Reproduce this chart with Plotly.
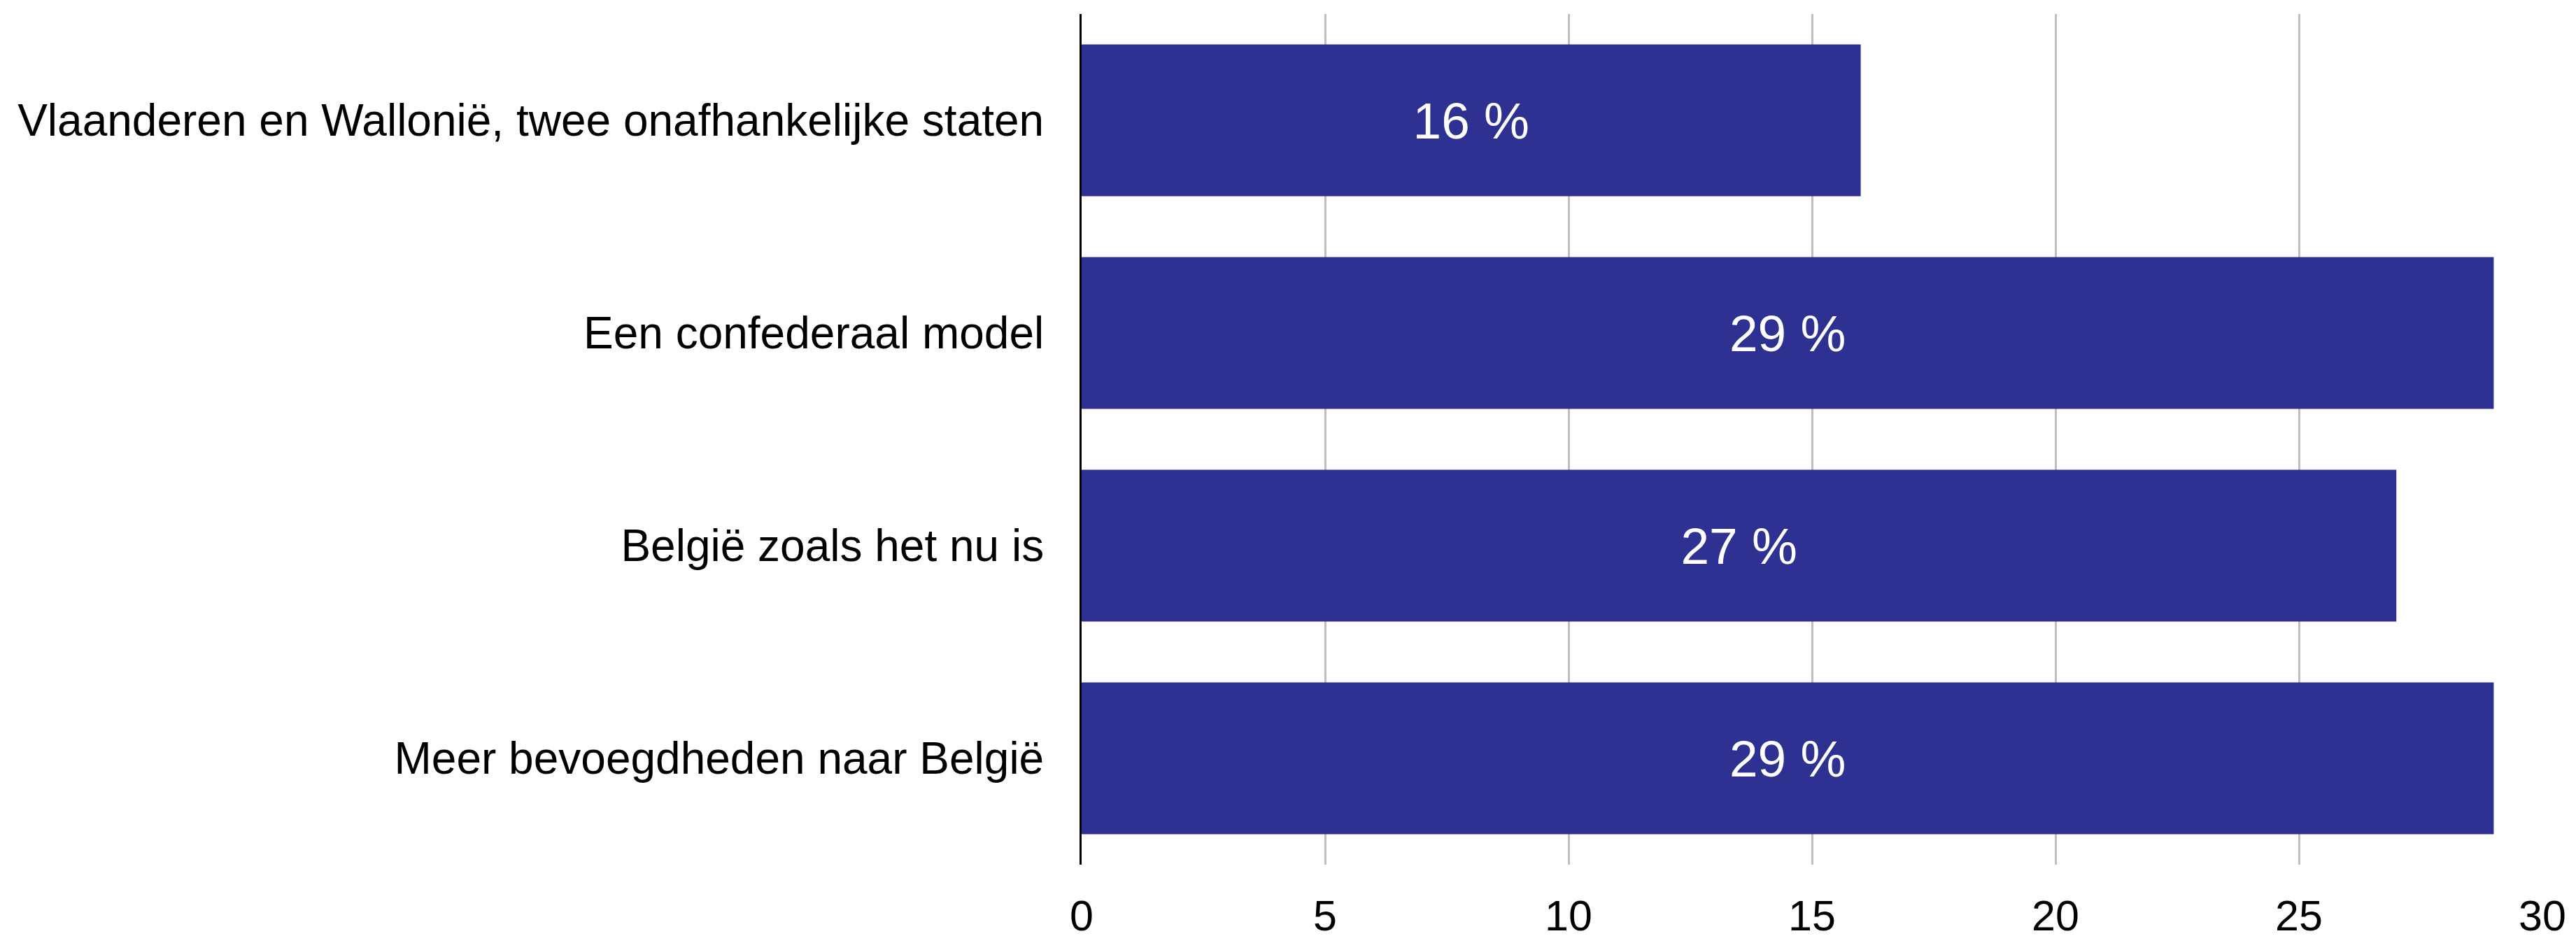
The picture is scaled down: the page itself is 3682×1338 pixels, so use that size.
import plotly.graph_objects as go

categories = [
    "Vlaanderen en Wallonië, twee onafhankelijke staten",
    "Een confederaal model",
    "België zoals het nu is",
    "Meer bevoegdheden naar België",
]
values = [16, 29, 27, 29]
labels = ["16 %", "29 %", "27 %", "29 %"]
x_ticks = [0, 5, 10, 15, 20, 25, 30]

BAR_COLOR = "#2E3192"
FONT = "Liberation Sans, Arial, Helvetica, sans-serif"

fig = go.Figure(
    go.Bar(
        y=categories,
        x=values,
        orientation="h",
        text=labels,
        textposition="inside",
        insidetextanchor="middle",
        textfont=dict(color="white", size=73, family=FONT),
        marker=dict(color=BAR_COLOR, line=dict(width=0)),
        hoverinfo="skip",
    )
)

fig.update_layout(
    width=3674,
    height=1330,
    margin=dict(l=1538, r=48, t=12, b=102),
    paper_bgcolor="white",
    plot_bgcolor="white",
    bargap=0.286,
    showlegend=False,
    font=dict(family=FONT, color="black"),
    uniformtext=dict(mode=False),
)

fig.update_xaxes(
    range=[0, 30],
    tickvals=x_ticks,
    ticktext=[str(t) for t in x_ticks],
    showgrid=True,
    gridcolor="#c0c0c0",
    gridwidth=3,
    zeroline=False,
    showline=False,
    ticks="",
    tickfont=dict(size=61, family=FONT, color="black"),
    ticklabelstandoff=32,
    automargin=False,
)

fig.update_yaxes(
    categoryorder="array",
    categoryarray=categories[::-1],
    showgrid=False,
    zeroline=False,
    showline=True,
    linecolor="black",
    linewidth=3,
    ticks="",
    tickfont=dict(size=64, family=FONT, color="black"),
    ticklabelstandoff=38,
    automargin=False,
)

fig.write_html("out.html")
